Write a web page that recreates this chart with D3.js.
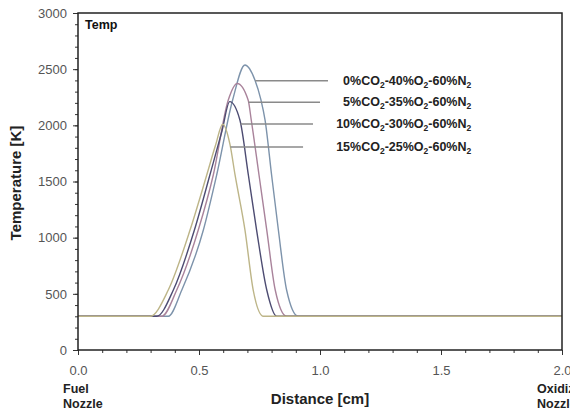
<!DOCTYPE html>
<html><head><meta charset="utf-8">
<script src="https://cdn.jsdelivr.net/npm/d3@7"></script>
<style>
html,body{margin:0;padding:0;background:#fff;}
svg{display:block;font-family:"Liberation Sans",Arial,sans-serif;}
</style></head>
<body>
<svg id="chart" width="570" height="410"></svg>
<script>
// ---- data ----
const seriesNames = ["0%CO2-40%O2-60%N2", "5%CO2-35%O2-60%N2", "10%CO2-30%O2-60%N2", "15%CO2-25%O2-60%N2"];
const seriesColors = ["#7d93ab", "#a9839b", "#4d4c72", "#bdb588"];
const dist0  = [0, 0.373, 0.429, 0.518, 0.573, 0.639, 0.690, 0.731, 0.756, 0.773, 0.800, 0.828, 0.862, 0.910, 2.0];
const temp0  = [300, 300, 534, 1068, 1558, 2226, 2537, 2404, 2226, 2047, 1558, 1068, 534, 300, 300];
const dist5  = [0, 0.346, 0.408, 0.497, 0.559, 0.621, 0.658, 0.703, 0.716, 0.748, 0.780, 0.815, 0.862, 2.0];
const temp5  = [300, 300, 534, 1068, 1558, 2226, 2373, 2226, 2047, 1558, 1068, 534, 300, 300];
const dist10 = [0, 0.325, 0.394, 0.481, 0.545, 0.595, 0.627, 0.669, 0.704, 0.738, 0.780, 0.821, 2.0];
const temp10 = [300, 300, 534, 1068, 1558, 1950, 2211, 2047, 1558, 1068, 534, 300, 300];
const dist15 = [0, 0.298, 0.373, 0.463, 0.532, 0.568, 0.598, 0.628, 0.649, 0.690, 0.724, 0.766, 2.0];
const temp15 = [300, 300, 534, 1068, 1558, 1820, 2010, 1830, 1558, 1068, 534, 300, 300];
const labelTemps = [2397, 2205, 2012, 1807];      // temperature level of each leader line
const leaderEnds = [1.033, 1.0, 0.971, 0.930];     // distance where each leader line ends
const labelEndDist = 1.625;                         // labels right-aligned here
const xTicks = [0, 0.5, 1.0, 1.5, 2.0];
const yTicks = [0, 500, 1000, 1500, 2000, 2500, 3000];

const series = [
  {name: seriesNames[0], d: dist0,  t: temp0,  color: seriesColors[0]},
  {name: seriesNames[1], d: dist5,  t: temp5,  color: seriesColors[1]},
  {name: seriesNames[2], d: dist10, t: temp10, color: seriesColors[2]},
  {name: seriesNames[3], d: dist15, t: temp15, color: seriesColors[3]}
];

// ---- layout ----
const svg = d3.select("#chart");
const L = 78, T = 13, W = 484, H = 337;
const x = d3.scaleLinear().domain([0, 2]).range([L, L + W]);
const y = d3.scaleLinear().domain([0, 3000]).range([T + H, T]);

// minor ticks
svg.append("g").attr("transform", `translate(0,${T + H})`)
  .call(d3.axisBottom(x).tickValues(d3.range(0, 2.001, 0.1)).tickSize(3).tickFormat(""))
  .call(g => g.select(".domain").remove())
  .call(g => g.selectAll("text").remove())
  .selectAll("line").attr("stroke", "#333");
svg.append("g").attr("transform", `translate(${L},0)`)
  .call(d3.axisLeft(y).tickValues(d3.range(0, 3001, 100)).tickSize(3).tickFormat(""))
  .call(g => g.select(".domain").remove())
  .call(g => g.selectAll("text").remove())
  .selectAll("line").attr("stroke", "#333");

// major axes
const xa = svg.append("g").attr("transform", `translate(0,${T + H})`)
  .call(d3.axisBottom(x).tickValues(xTicks).tickSize(5).tickPadding(11).tickFormat(d3.format(".1f")));
xa.select(".domain").remove();
xa.selectAll("line").attr("stroke", "#333");
xa.selectAll("text").attr("font-size", 13).attr("fill", "#555").attr("font-family", "Liberation Sans, Arial");

const ya = svg.append("g").attr("transform", `translate(${L},0)`)
  .call(d3.axisLeft(y).tickValues(yTicks).tickSize(5).tickPadding(6).tickFormat(d3.format("d")));
ya.select(".domain").remove();
ya.selectAll("line").attr("stroke", "#333");
ya.selectAll("text").attr("font-size", 13).attr("fill", "#555").attr("font-family", "Liberation Sans, Arial");

// curves
const line = d3.line().x(p => x(p[0])).y(p => y(p[1])).curve(d3.curveMonotoneX);
svg.append("clipPath").attr("id", "clip").append("rect")
  .attr("x", L).attr("y", T).attr("width", W).attr("height", H);
const curves = svg.append("g").attr("clip-path", "url(#clip)");
series.forEach(s => {
  const pts = s.d.map((d, i) => [d, s.t[i]]);
  curves.append("path").attr("d", line(pts)).attr("fill", "none")
    .attr("stroke", s.color).attr("stroke-width", 1.4);
});

// leader lines and labels
function fallingDist(s, temp) {
  const iPeak = d3.maxIndex(s.t);
  for (let i = iPeak; i < s.t.length - 1; i++) {
    if (s.t[i] >= temp && s.t[i + 1] <= temp) {
      const f = (s.t[i] - temp) / (s.t[i] - s.t[i + 1]);
      return s.d[i] + f * (s.d[i + 1] - s.d[i]);
    }
  }
  return s.d[iPeak];
}
series.forEach((s, i) => {
  const ty = y(labelTemps[i]);
  svg.append("line")
    .attr("x1", x(fallingDist(s, labelTemps[i]))).attr("x2", x(leaderEnds[i]))
    .attr("y1", ty).attr("y2", ty)
    .attr("stroke", "#8a8a8a").attr("stroke-width", 1.5);
  const txt = svg.append("text").attr("x", x(labelEndDist)).attr("y", ty + 4)
    .attr("text-anchor", "end").attr("font-weight", "bold").attr("font-size", 12.5).attr("fill", "#222");
  const parts = s.name.split(/([ON])2/);
  let pendingDy = 0;
  for (let k = 0; k < parts.length; k++) {
    if (k % 2 === 0) {
      if (parts[k]) { txt.append("tspan").attr("dy", pendingDy).text(parts[k]); pendingDy = 0; }
    } else {
      txt.append("tspan").attr("dy", pendingDy).text(parts[k]);
      txt.append("tspan").attr("dy", 3).attr("font-size", 8.5).text("2");
      pendingDy = -3;
    }
  }
});

// frame
svg.append("rect").attr("x", L).attr("y", T).attr("width", W).attr("height", H)
  .attr("fill", "none").attr("stroke", "#222").attr("stroke-width", 1.5);

// texts
svg.append("text").attr("x", 85).attr("y", 29).attr("font-size", 12.5).attr("font-weight", "bold")
  .attr("fill", "#111").text("Temp");
svg.append("text").attr("transform", "translate(21,183) rotate(-90)").attr("text-anchor", "middle")
  .attr("font-size", 15).attr("font-weight", "bold").attr("fill", "#222").text("Temperature [K]");
svg.append("text").attr("x", 320).attr("y", 404).attr("text-anchor", "middle")
  .attr("font-size", 15).attr("font-weight", "bold").attr("fill", "#222").text("Distance [cm]");
svg.append("text").attr("x", 63).attr("y", 393).attr("font-size", 12.5).attr("font-weight", "bold")
  .attr("fill", "#222").text("Fuel");
svg.append("text").attr("x", 63).attr("y", 408).attr("font-size", 12.5).attr("font-weight", "bold")
  .attr("fill", "#222").text("Nozzle");
svg.append("text").attr("x", 537).attr("y", 393).attr("font-size", 12.5).attr("font-weight", "bold")
  .attr("fill", "#222").text("Oxidizer");
svg.append("text").attr("x", 537).attr("y", 408).attr("font-size", 12.5).attr("font-weight", "bold")
  .attr("fill", "#222").text("Nozzle");
</script>
</body></html>
